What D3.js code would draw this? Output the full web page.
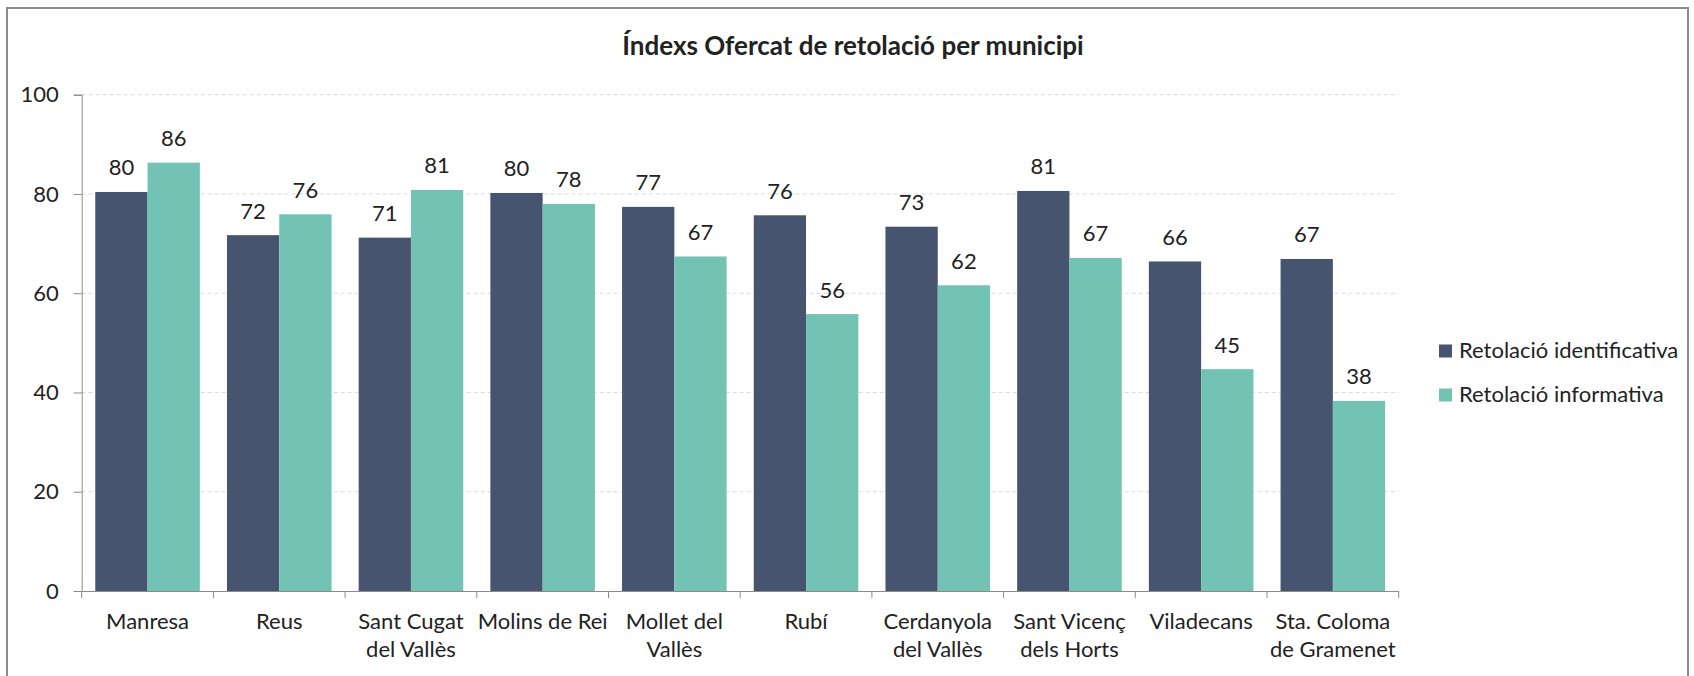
<!DOCTYPE html>
<html lang="ca">
<head>
  <meta charset="UTF-8">
  <title>Índexs Ofercat de retolació per municipi</title>
  <script src="https://cdn.jsdelivr.net/npm/d3@7.9.0/dist/d3.min.js"></script>
  <style>
    html, body { margin: 0; padding: 0; background: #fff; }
    svg { display: block; font-family: Lato, "Open Sans", sans-serif; }
    text { fill: #222; }
  </style>
</head>
<body>
  <div id="chart"></div>

  <script>
    // municipis, amb el trencament de línia de l'eix
    const municipis = ["Manresa", "Reus", "Sant Cugat del Vallès", "Molins de Rei", "Mollet del Vallès",
                       "Rubí", "Cerdanyola del Vallès", "Sant Vicenç dels Horts", "Viladecans", "Sta. Coloma de Gramenet"];
    const etiquetes = [["Manresa"], ["Reus"], ["Sant Cugat", "del Vallès"], ["Molins de Rei"], ["Mollet del", "Vallès"],
                       ["Rubí"], ["Cerdanyola", "del Vallès"], ["Sant Vicenç", "dels Horts"], ["Viladecans"], ["Sta. Coloma", "de Gramenet"]];

    const series = ["Retolació identificativa", "Retolació informativa"];
    const identificativa = [80.4, 71.7, 71.2, 80.2, 77.4, 75.7, 73.4, 80.6, 66.4, 66.9];
    const informativa    = [86.3, 75.9, 80.8, 78.0, 67.4, 55.8, 61.6, 67.1, 44.7, 38.3];
    const yTicks = [0, 20, 40, 60, 80, 100];

    const colors = ["#46546f", "#73c3b4"];
    const W = 1694, H = 676;
    const mLeft = 81.7, mRight = 1398.7, mTop = 94.7, mBottom = 591;

    const data = municipis.map((m, i) => ({ name: m, lines: etiquetes[i], vals: [identificativa[i], informativa[i]] }));

    const svg = d3.select("#chart").append("svg")
      .attr("width", W)
      .attr("height", H);

    // marc del gràfic
    svg.append("rect")
      .attr("x", 7).attr("y", 8)
      .attr("width", 1681).attr("height", 720)
      .attr("fill", "none")
      .attr("stroke", "#8c8c8c")
      .attr("stroke-width", 2);

    svg.append("text")
      .attr("x", 853).attr("y", 55)
      .attr("text-anchor", "middle")
      .style("font-size", "26px")
      .style("font-weight", "bold")
      .text("Índexs Ofercat de retolació per municipi");

    const x = d3.scaleBand()
      .domain(municipis)
      .range([mLeft, mRight])
      .paddingInner(0.206)
      .paddingOuter(0.103);

    const xs = d3.scaleBand()
      .domain([0, 1])
      .range([0, x.bandwidth()]);

    const y = d3.scaleLinear()
      .domain([0, 100])
      .range([mBottom, mTop]);

    // línies de graella
    svg.append("g")
      .selectAll("line")
      .data(yTicks.filter(t => t > 0))
      .enter().append("line")
      .attr("x1", mLeft).attr("x2", mRight)
      .attr("y1", d => y(d)).attr("y2", d => y(d))
      .attr("stroke", "#d9d9d9")
      .attr("stroke-dasharray", "4,3");

    // barres
    const grup = svg.append("g")
      .selectAll("g")
      .data(data)
      .enter().append("g")
      .attr("transform", d => `translate(${x(d.name)},0)`);

    grup.selectAll("rect")
      .data(d => d.vals)
      .enter().append("rect")
      .attr("x", (v, j) => xs(j))
      .attr("y", v => y(v))
      .attr("width", xs.bandwidth())
      .attr("height", v => y(0) - y(v))
      .attr("fill", (v, j) => colors[j]);

    grup.selectAll("text")
      .data(d => d.vals)
      .enter().append("text")
      .attr("x", (v, j) => xs(j) + xs.bandwidth() / 2)
      .attr("y", v => y(v) - 16.5)
      .attr("text-anchor", "middle")
      .style("font-size", "22px")
      .text(v => d3.format(".0f")(v));

    // eix Y
    const yAxis = svg.append("g")
      .attr("transform", `translate(${mLeft},0)`)
      .call(d3.axisLeft(y).tickValues(yTicks).tickSize(8).tickPadding(15));
    yAxis.selectAll("path, line").attr("stroke", "#8a8a8a");
    yAxis.selectAll("text").style("font-size", "22px").style("font-family", "Lato").attr("fill", "#222");

    // eix X
    const xAxis = svg.append("g")
      .attr("transform", `translate(0,${mBottom})`)
      .call(d3.axisBottom(x).tickSize(0).tickPadding(0));
    xAxis.select(".domain").attr("stroke", "#8a8a8a").attr("d", `M${mLeft},0.5H${mRight}`);
    xAxis.selectAll(".tick text").remove();
    xAxis.selectAll(".tick").each(function(d, i) {
      const t = d3.select(this).append("text")
        .attr("text-anchor", "middle")
        .attr("fill", "#222")
        .style("font-size", "22px")
        .style("font-family", "Lato");
      etiquetes[i].forEach((l, k) => {
        t.append("tspan").attr("x", 0).attr("y", 37.5 + k * 28).text(l);
      });
    });

    // marques entre categories
    const step = x.step();
    svg.append("g")
      .selectAll("line")
      .data(d3.range(municipis.length + 1))
      .enter().append("line")
      .attr("x1", i => mLeft + i * step).attr("x2", i => mLeft + i * step)
      .attr("y1", mBottom).attr("y2", mBottom + 7)
      .attr("stroke", "#8a8a8a");

    // llegenda
    const leg = svg.append("g")
      .selectAll("g")
      .data(series)
      .enter().append("g")
      .attr("transform", (d, i) => `translate(1439,${344.5 + i * 44})`);
    leg.append("rect")
      .attr("width", 13).attr("height", 13)
      .attr("fill", (d, i) => colors[i]);
    leg.append("text")
      .attr("x", 20).attr("y", 13)
      .style("font-size", "22px")
      .text(d => d);
  </script>
</body>
</html>
